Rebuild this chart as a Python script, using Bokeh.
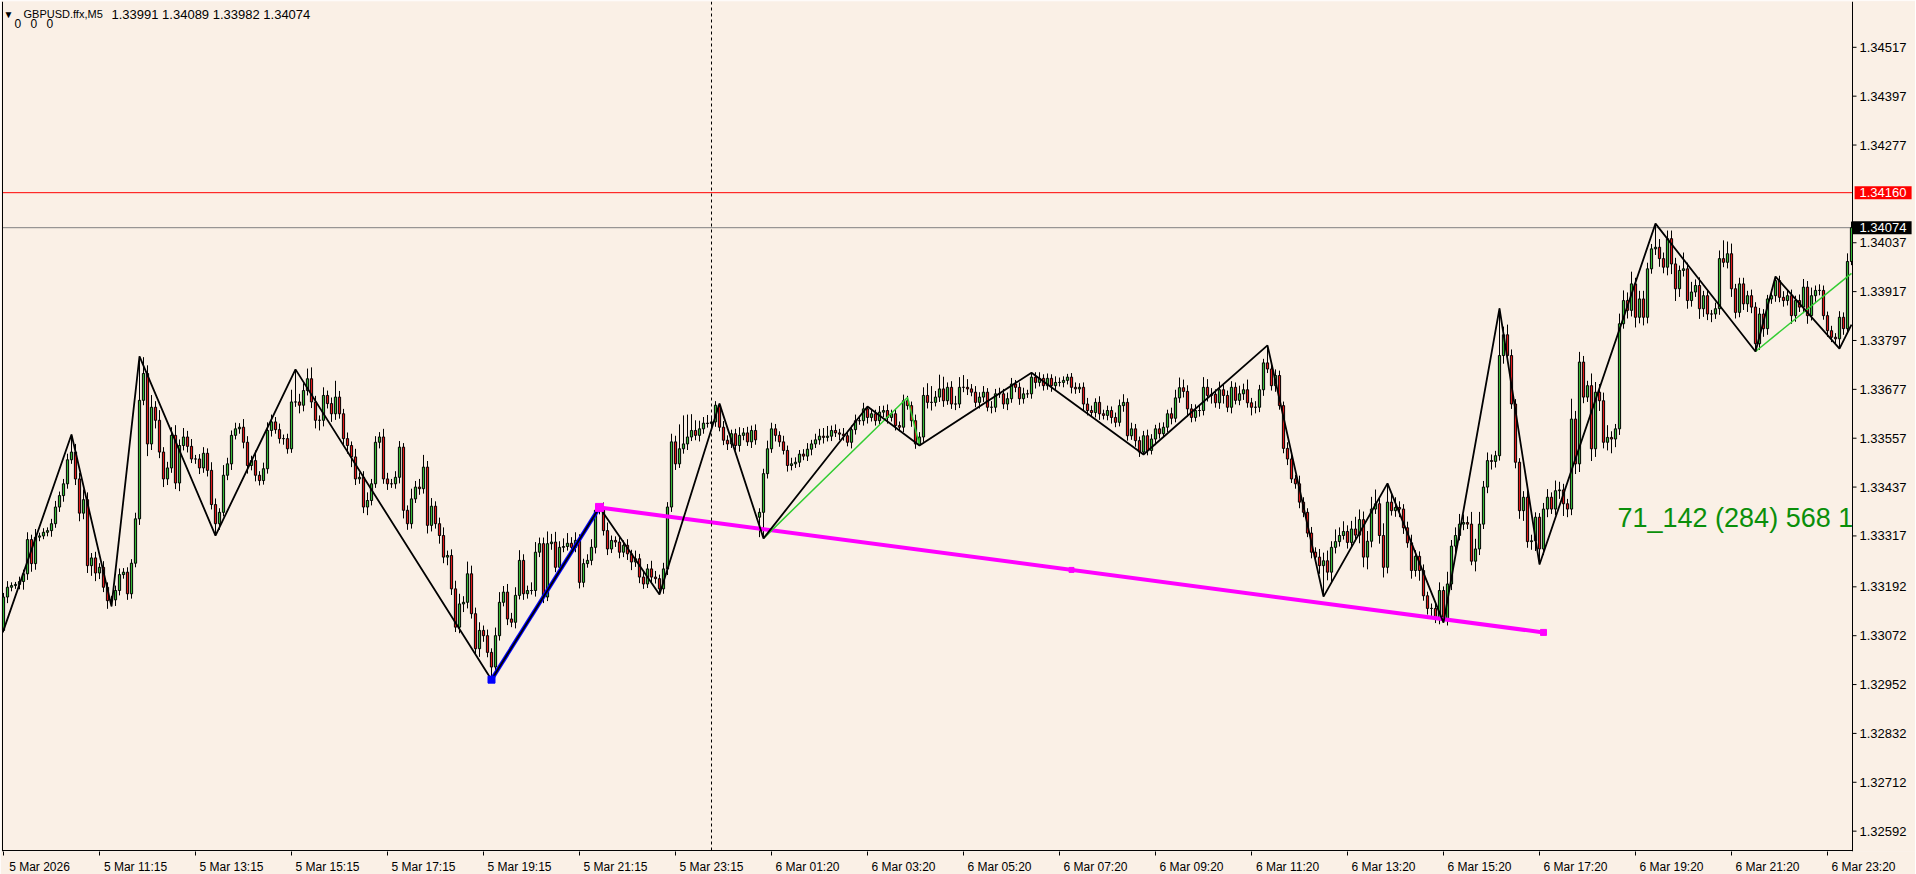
from bokeh.plotting import figure
from bokeh.models import Range1d, FixedTicker, Span, Label, ColumnDataSource
from bokeh.core.properties import value
from bokeh.embed import file_html
from bokeh.resources import INLINE

# ---------------- data (prices in points of 0.00001 above BASE) ----------------
BASE = 1.33000
PT = 0.00001

closes = [
    167, 191, 195, 198, 205, 224, 308, 249, 314, 317,
    326, 330, 347, 388, 416, 445, 504, 523, 457, 373,
    406, 244, 263, 226, 240, 191, 158, 160, 183, 222,
    228, 175, 250, 359, 650, 716, 543, 633, 601, 523,
    457, 484, 564, 447, 539, 560, 537, 506, 506, 484,
    520, 478, 394, 347, 375, 466, 494, 564, 580, 584,
    547, 490, 502, 466, 453, 482, 576, 597, 578, 556,
    556, 531, 646, 646, 638, 674, 703, 646, 601, 601,
    662, 642, 617, 658, 617, 556, 539, 511, 457, 461,
    388, 404, 445, 547, 560, 457, 445, 445, 461, 535,
    380, 347, 408, 437, 433, 486, 343, 390, 347, 318,
    265, 269, 187, 93, 150, 154, 224, 126, 40, 85,
    72, 31, -5, 72, 154, 179, 113, 105, 171, 257,
    175, 183, 183, 277, 298, 167, 298, 302, 240, 289,
    291, 299, 289, 306, 203, 249, 257, 289, 380, 384,
    330, 285, 306, 302, 277, 294, 273, 253, 261, 216,
    199, 236, 216, 212, 187, 236, 388, 548, 494, 531,
    543, 560, 576, 564, 580, 594, 593, 597, 638, 584,
    552, 543, 568, 539, 564, 570, 548, 576, 553, 375,
    470, 531, 580, 564, 548, 527, 490, 494, 498, 518,
    513, 530, 543, 553, 562, 559, 562, 576, 570, 567,
    563, 547, 578, 600, 600, 629, 608, 617, 600, 621,
    625, 608, 617, 588, 584, 649, 637, 600, 543, 560,
    662, 645, 645, 658, 678, 649, 682, 641, 641, 682,
    682, 678, 670, 645, 658, 670, 633, 633, 666, 666,
    641, 654, 690, 682, 654, 666, 666, 707, 694, 704,
    686, 704, 686, 694, 694, 699, 707, 682, 678, 682,
    641, 625, 620, 645, 617, 613, 625, 608, 596, 637,
    645, 563, 580, 551, 523, 563, 527, 555, 580, 568,
    584, 617, 606, 656, 681, 672, 629, 608, 625, 625,
    682, 662, 665, 644, 676, 662, 633, 682, 650, 666,
    676, 644, 633, 633, 676, 742, 727, 686, 711, 637,
    532, 506, 457, 445, 400, 375, 324, 277, 265, 244,
    256, 228, 289, 303, 318, 328, 301, 334, 319, 357,
    265, 304, 383, 396, 318, 240, 400, 379, 387, 383,
    337, 300, 232, 267, 232, 170, 139, 139, 115, 183,
    109, 199, 292, 318, 346, 350, 346, 255, 285, 346,
    437, 502, 500, 514, 760, 811, 760, 641, 498, 379,
    412, 303, 305, 363, 285, 383, 412, 383, 428, 430,
    396, 383, 604, 494, 744, 658, 686, 531, 670, 649,
    547, 559, 555, 580, 838, 895, 871, 936, 854, 899,
    854, 973, 1022, 1026, 998, 977, 1047, 985, 924, 969,
    973, 895, 916, 932, 875, 907, 862, 862, 875, 998,
    989, 1010, 924, 866, 936, 887, 907, 879, 789, 862,
    826, 899, 907, 944, 903, 895, 907, 858, 895, 879,
    928, 858, 907, 920, 920, 858, 821, 805, 801, 854,
    826, 991, 1074,
]

# opens follow the previous close except where the price gapped
gap_opens = {0: 85, 189: 363, 462: 991}

upper_wick = [
    10, 15, 8, 6, 12, 10, 18, 12, 20, 8,
    10, 8, 12, 15, 10, 12, 15, 43, 20, 15,
    25, 18, 12, 15, 10, 15, 12, 10, 12, 15,
    10, 12, 10, 15, 108, 40, 20, 30, 15, 25,
    12, 15, 20, 25, 15, 22, 15, 18, 10, 12,
    15, 12, 20, 15, 10, 25, 15, 12, 15, 10,
    20, 15, 12, 25, 10, 15, 20, 18, 12, 15,
    10, 12, 30, 80, 20, 18, 25, 28, 15, 12,
    20, 12, 15, 40, 15, 12, 15, 10, 20, 12,
    15, 20, 12, 15, 12, 20, 15, 12, 15, 15,
    10, 12, 25, 15, 20, 30, 15, 20, 12, 15,
    20, 12, 15, 20, 25, 15, 30, 20, 15, 20,
    12, 15, 10, 20, 25, 15, 20, 15, 20, 25,
    15, 12, 20, 25, 15, 15, 30, 20, 25, 15,
    20, 25, 15, 20, 15, 12, 15, 20, 10, 3,
    15, 20, 12, 10, 15, 12, 15, 10, 20, 12,
    15, 12, 20, 15, 10, 15, 12, 20, 15, 60,
    70, 55, 40, 25, 20, 15, 20, 15, 10, 4,
    15, 12, 10, 12, 20, 12, 15, 12, 15, 10,
    12, 20, 15, 12, 10, 15, 12, 15, 12, 10,
    12, 15, 10, 15, 18, 20, 25, 12, 15, 10,
    15, 12, 10, 15, 12, 15, 6, 12, 10, 15,
    12, 15, 10, 12, 10, 15, 12, 10, 15, 12,
    20, 30, 40, 15, 35, 30, 12, 15, 20, 25,
    30, 20, 12, 15, 12, 15, 10, 15, 12, 15,
    12, 15, 15, 10, 12, 15, 10, 11, 12, 15,
    10, 12, 10, 15, 12, 10, 8, 10, 12, 10,
    12, 15, 12, 10, 15, 10, 12, 10, 12, 15,
    20, 10, 15, 12, 10, 12, 15, 12, 10, 15,
    12, 10, 15, 20, 25, 20, 15, 12, 15, 12,
    25, 20, 15, 12, 20, 15, 12, 15, 12, 20,
    15, 25, 12, 15, 12, 10, 43, 15, 15, 12,
    10, 15, 12, 10, 20, 12, 10, 15, 12, 20,
    20, 25, 15, 30, 20, 25, 15, 20, 30, 25,
    20, 25, 30, 35, 15, 30, 46, 20, 25, 15,
    12, 15, 20, 15, 12, 15, 10, 12, 15, 20,
    10, 30, 15, 20, 25, 20, 15, 30, 25, 30,
    15, 20, 15, 12, 116, 20, 25, 15, 12, 10,
    15, 20, 15, 12, 10, 15, 20, 12, 25, 20,
    15, 12, 50, 20, 25, 15, 12, 30, 25, 20,
    20, 30, 15, 12, 25, 25, 20, 30, 15, 20,
    20, 15, 12, 58, 20, 15, 20, 20, 15, 12,
    40, 15, 25, 15, 20, 12, 15, 10, 15, 20,
    45, 30, 25, 12, 15, 15, 12, 15, 12, 15,
    12, 10, 15, 10, 12, 15, 12, 15, 12, 15,
    20, 15, 20, 12, 15, 12, 10, 12, 10, 15,
    12, 20, 15,
]

lower_wick = [
    5, 15, 10, 8, 12, 20, 15, 20, 15, 10,
    8, 10, 15, 10, 12, 15, 12, 10, 15, 20,
    15, 18, 25, 20, 15, 12, 20, 14, 15, 12,
    10, 15, 12, 10, 15, 12, 30, 15, 20, 15,
    20, 15, 12, 15, 20, 12, 15, 10, 12, 15,
    12, 15, 12, 29, 15, 10, 12, 15, 10, 12,
    15, 20, 12, 15, 12, 10, 12, 15, 10, 12,
    15, 12, 10, 12, 20, 15, 12, 15, 20, 25,
    15, 12, 20, 15, 12, 15, 20, 25, 15, 12,
    15, 20, 12, 10, 15, 12, 15, 10, 12, 15,
    20, 15, 12, 10, 15, 12, 20, 15, 12, 20,
    15, 20, 15, 12, 15, 20, 15, 12, 15, 20,
    15, 12, 31, 15, 12, 10, 15, 12, 15, 10,
    15, 12, 10, 15, 12, 15, 10, 15, 12, 15,
    12, 10, 15, 12, 15, 12, 10, 12, 15, 10,
    12, 15, 10, 12, 15, 12, 15, 20, 12, 15,
    12, 10, 15, 12, 14, 12, 15, 12, 15, 10,
    12, 15, 10, 12, 15, 12, 10, 15, 12, 10,
    12, 15, 10, 12, 15, 12, 10, 15, 12, 49,
    64, 12, 10, 15, 12, 10, 15, 12, 10, 12,
    10, 12, 15, 10, 12, 15, 10, 12, 10, 15,
    12, 10, 15, 12, 10, 12, 15, 10, 12, 10,
    12, 15, 10, 12, 10, 12, 10, 15, 12, 4,
    12, 15, 20, 10, 12, 15, 10, 12, 15, 10,
    12, 15, 10, 12, 15, 12, 10, 15, 12, 10,
    12, 15, 10, 12, 15, 12, 10, 12, 15, 10,
    12, 10, 15, 12, 10, 12, 10, 15, 12, 10,
    15, 12, 10, 12, 15, 10, 12, 15, 12, 10,
    15, 12, 10, 15, 12, 6, 12, 10, 15, 12,
    10, 12, 15, 10, 12, 15, 20, 12, 10, 15,
    12, 15, 20, 12, 15, 20, 12, 15, 10, 12,
    15, 12, 20, 15, 12, 15, 10, 12, 15, 10,
    12, 15, 10, 12, 15, 12, 10, 15, 12, 20,
    76, 20, 25, 15, 12, 10, 15, 12, 15, 20,
    25, 30, 15, 12, 20, 25, 15, 12, 15, 20,
    15, 12, 20, 15, 25, 12, 15, 20, 12, 15,
    5, 12, 15, 20, 12, 15, 12, 10, 25, 15,
    12, 15, 20, 15, 12, 20, 15, 12, 15, 20,
    25, 15, 20, 25, 38, 15, 20, 12, 15, 20,
    30, 20, 15, 25, 20, 15, 12, 30, 20, 25,
    15, 20, 35, 20, 15, 12, 20, 15, 25, 15,
    20, 15, 12, 15, 20, 15, 20, 25, 30, 20,
    15, 20, 15, 12, 25, 20, 15, 20, 12, 15,
    12, 15, 20, 15, 12, 15, 20, 15, 19, 15,
    20, 15, 12, 15, 12, 15, 12, 20, 15, 12,
    15, 20, 12, 15, 12, 10, 15, 12, 15, 24,
    15, 12, 9,
]

# ZigZag pivots (bar index, points)
zz_idx = [0, 17, 27, 34, 53, 73, 122, 149, 164, 179, 190, 216, 229, 257, 285,
          316, 330, 346, 360, 374, 384, 413, 438, 443, 459, 462]
zz_val = [85, 566, 144, 758, 318, 726, -36, 387, 173, 642, 311, 635, 539, 718, 517,
          785, 168, 446, 104, 876, 247, 1084, 770, 954, 777, 836]

green1_idx = [190, 226, 229]
green1_val = [311, 657, 539]
green2_idx = [438, 462]
green2_val = [770, 962]

blue_idx = [122, 149]
blue_val = [-36, 387]

trend_idx = [149, 267, 385]
trend_val = [387, 233.5, 80]

# horizontal price levels
red_level = 1.34160
bid_level = 1.34074
day_separator_idx = 177

# axis ticks
time_tick_idx = [0, 24, 48, 72, 96, 120, 144, 168, 192, 216, 240, 264, 288, 312,
                 336, 360, 384, 408, 432, 456]
time_tick_labels = ["5 Mar 2026", "5 Mar 11:15", "5 Mar 13:15", "5 Mar 15:15",
                    "5 Mar 17:15", "5 Mar 19:15", "5 Mar 21:15", "5 Mar 23:15",
                    "6 Mar 01:20", "6 Mar 03:20", "6 Mar 05:20", "6 Mar 07:20",
                    "6 Mar 09:20", "6 Mar 11:20", "6 Mar 13:20", "6 Mar 15:20",
                    "6 Mar 17:20", "6 Mar 19:20", "6 Mar 21:20", "6 Mar 23:20"]
price_ticks = [1.34517, 1.34397, 1.34277, 1.34037, 1.33917, 1.33797, 1.33677,
               1.33557, 1.33437, 1.33317, 1.33192, 1.33072, 1.32952, 1.32832,
               1.32712, 1.32592]

header_symbol = "GBPUSD.ffx,M5"
header_ohlc = "1.33991 1.34089 1.33982 1.34074"
header_values = ["0", "0", "0"]
info_text = "71_142 (284) 568 1"
info_idx = 403.5
info_val = 360

# ---------------- layout constants (positions / styles) ----------------
BG = "#FAF0E6"
FONT = "Liberation Sans"
LAST = 462.25          # right edge of the chart area (bar units)
FIRST = -0.25          # left edge of the chart area
X_END = 478.0          # right edge of the price-scale area
Y_LO, Y_HI = 1.325420, 1.3462950
BOTTOM_LINE = 1.325444
LABEL_SHIFT = 9        # time labels start just right of their tick

def px(v):
    return BASE + v * PT

n = min(len(closes), len(upper_wick), len(lower_wick))
xs, tops, bots, highs, lows, cols = [], [], [], [], [], []
for i in range(n):
    o = gap_opens.get(i, closes[i - 1] if i > 0 else closes[0])
    c = closes[i]
    hi_body = max(o, c)
    lo_body = min(o, c)
    xs.append(i)
    tops.append(px(hi_body))
    bots.append(px(lo_body))
    highs.append(px(hi_body + upper_wick[i]))
    lows.append(px(lo_body - lower_wick[i]))
    cols.append("#36b836" if c >= o else "#e01818")

src = ColumnDataSource(dict(x=xs, top=tops, bottom=bots, high=highs, low=lows, color=cols))

p = figure(frame_width=1914, frame_height=850,
           x_range=Range1d(-0.5, X_END), y_range=Range1d(Y_LO, Y_HI),
           output_backend="svg", toolbar_location=None,
           min_border=0, min_border_left=1, min_border_top=1,
           y_axis_location=None,
           background_fill_color=BG, border_fill_color=BG,
           outline_line_color=None)
p.grid.visible = False

# bottom time axis: tick marks as minor ticks, labels shifted right of them
xa = p.xaxis[0]
xa.ticker = FixedTicker(ticks=[t + LABEL_SHIFT for t in time_tick_idx],
                        minor_ticks=time_tick_idx)
xa.major_label_overrides = {t + LABEL_SHIFT: lab for t, lab in zip(time_tick_idx, time_tick_labels)}
xa.major_tick_out = 0
xa.major_tick_in = 0
xa.minor_tick_out = 4
xa.minor_tick_in = 0
xa.minor_tick_line_color = "black"
xa.major_label_standoff = 4
xa.major_label_text_font = FONT
xa.major_label_text_font_size = "12px"
xa.major_label_text_color = "black"
xa.axis_line_color = None

# price levels (glyph lines, cut at the chart edge)
p.segment(x0=[FIRST], y0=[red_level], x1=[LAST], y1=[red_level], line_color="#ff0000", line_width=1)
p.segment(x0=[FIRST], y0=[bid_level], x1=[LAST], y1=[bid_level], line_color="#808080", line_width=1)

# candles
p.segment(x0="x", y0="low", x1="x", y1="high", source=src, line_color="black", line_width=1)
p.vbar(x="x", width=0.55, top="top", bottom="bottom", source=src,
       fill_color="color", line_color="black", line_width=1)

# drawings
p.line(blue_idx, [px(v) for v in blue_val], line_color="#0000ff", line_width=4)
p.line([trend_idx[0], trend_idx[-1]], [px(trend_val[0]), px(trend_val[-1])],
       line_color="#ff00ff", line_width=4)
p.line(green1_idx, [px(v) for v in green1_val], line_color="#32cd32", line_width=1.5)
p.line(green2_idx, [px(v) for v in green2_val], line_color="#32cd32", line_width=1.5)
p.line(zz_idx, [px(v) for v in zz_val], line_color="black", line_width=1.8)
p.scatter([blue_idx[0]], [px(blue_val[0])], marker="square", size=7,
          fill_color="#0000ff", line_color="#0000ff")
p.scatter(trend_idx, [px(v) for v in trend_val], marker="square", size=[8, 5, 6],
          fill_color="#ff00ff", line_color="#ff00ff")

p.text(x=[info_idx], y=[px(info_val)], text=[info_text], text_font=value(FONT),
       text_font_size="27px", text_color="#0a8f0a", text_baseline="middle", text_align="left")

# price-scale area: cover anything past the chart edge
p.quad(left=[LAST + 0.1], right=[X_END + 1], bottom=[Y_LO - 0.01], top=[Y_HI + 0.01],
       fill_color=BG, line_color=None)

# chart borders
p.add_layout(Span(location=LAST, dimension="height", line_color="black", line_width=1))
p.add_layout(Span(location=FIRST, dimension="height", line_color="black", line_width=1))
p.segment(x0=[FIRST], y0=[BOTTOM_LINE], x1=[LAST], y1=[BOTTOM_LINE], line_color="black", line_width=1)

# price scale ticks and labels
p.segment(x0=[LAST] * len(price_ticks), y0=price_ticks, x1=[LAST + 1.0] * len(price_ticks),
          y1=price_ticks, line_color="black", line_width=1)
p.text(x=[LAST + 1.75] * len(price_ticks), y=price_ticks, text=["%.5f" % t for t in price_ticks],
       text_font=value(FONT), text_font_size="13px", text_color="black",
       text_baseline="middle", text_align="left")

# price boxes
p.rect(x=[469.9], y=[red_level], width=14.25, height=13, height_units="screen",
       fill_color="#ff0000", line_color=None)
p.rect(x=[469.65], y=[bid_level], width=14.75, height=13, height_units="screen",
       fill_color="black", line_color=None)
p.text(x=[LAST + 1.75, LAST + 1.75], y=[red_level, bid_level], text=["%.5f" % red_level, "%.5f" % bid_level],
       text_font=value(FONT), text_font_size="13px", text_color="white",
       text_baseline="middle", text_align="left")

# day separator
p.add_layout(Span(location=day_separator_idx, dimension="height", line_color="black",
                  line_width=1, line_dash="3 3"))

# header
p.add_layout(Label(x=2, y=843, x_units="screen", y_units="screen", text="\u25bc",
                   text_font=FONT, text_font_size="10px", text_baseline="top", text_color="black"))
p.add_layout(Label(x=22, y=844, x_units="screen", y_units="screen", text=header_symbol,
                   text_font=FONT, text_font_size="11px", text_baseline="top", text_color="black"))
p.add_layout(Label(x=110, y=845, x_units="screen", y_units="screen", text=header_ohlc,
                   text_font=FONT, text_font_size="13px", text_baseline="top", text_color="black"))
for xx, t in zip((13, 29, 45), header_values):
    p.add_layout(Label(x=xx, y=833, x_units="screen", y_units="screen", text=t,
                       text_font=FONT, text_font_size="12px", text_baseline="top", text_color="black"))

open("out.html", "w").write(file_html(p, INLINE))
